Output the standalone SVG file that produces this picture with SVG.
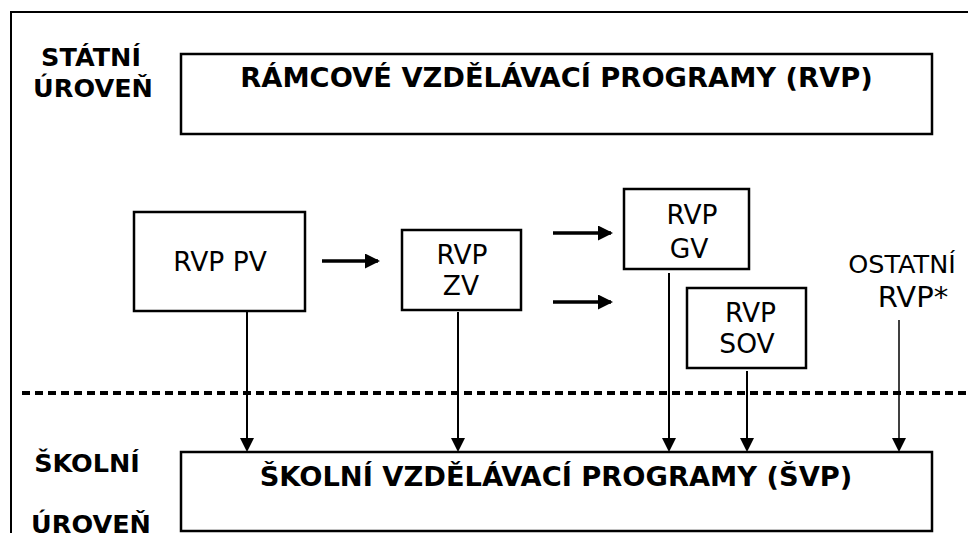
<svg xmlns="http://www.w3.org/2000/svg" width="968" height="533" viewBox="0 0 968 533">
  <style>
    .box { fill: #ffffff; stroke: #000000; stroke-width: 2.5; }
    .lbl { font-family: "DejaVu Sans", "Noto Sans", sans-serif; fill: #000000; text-anchor: middle; }
    .bold { font-weight: bold; font-size: 27.3px; }
    .side { font-weight: bold; font-size: 25.5px; }
    .reg { font-size: 26.5px; }
    .flow { stroke: #000000; stroke-width: 3.5; fill: none; }
    .feed { stroke: #000000; stroke-width: 2; fill: none; }
    .thin { stroke: #000000; stroke-width: 1.5; fill: none; }
  </style>
  <defs>
    <marker id="head" markerUnits="userSpaceOnUse" viewBox="0 0 15 15" markerWidth="15" markerHeight="15" refX="13" refY="7.5" orient="auto">
      <path d="M0,0 L15,7.5 L0,15 z" fill="#000000"/>
    </marker>
    <marker id="headDown" markerUnits="userSpaceOnUse" viewBox="0 0 14 14" markerWidth="14" markerHeight="14" refX="12" refY="7" orient="auto">
      <path d="M0,0 L14,7 L0,14 z" fill="#000000"/>
    </marker>
  </defs>

  <rect width="968" height="533" fill="#ffffff"/>

  <!-- outer frame (left and top edges) -->
  <path d="M11,533 L11,12 L968,12" fill="none" stroke="#000000" stroke-width="2"/>

  <!-- boundary between state level and school level -->
  <line x1="22" y1="393" x2="968" y2="393" stroke="#000000" stroke-width="4" stroke-dasharray="8 5"/>

  <!-- level captions -->
  <g id="level-state">
    <text class="lbl side" x="91" y="66">STÁTNÍ</text>
    <text class="lbl side" x="93" y="97">ÚROVEŇ</text>
  </g>
  <g id="level-school">
    <text class="lbl side" x="87" y="472">ŠKOLNÍ</text>
    <text class="lbl side" x="91" y="533" font-size="26.5">ÚROVEŇ</text>
  </g>

  <!-- connectors -->
  <g id="connectors">
    <line class="flow" x1="322" y1="261" x2="378" y2="261" marker-end="url(#head)"/>
    <line class="flow" x1="553" y1="233" x2="611" y2="233" marker-end="url(#head)"/>
    <line class="flow" x1="553" y1="302" x2="611" y2="302" marker-end="url(#head)"/>
    <line class="feed" x1="247" y1="311" x2="247" y2="450" marker-end="url(#headDown)"/>
    <line class="feed" x1="458" y1="312" x2="458" y2="450" marker-end="url(#headDown)"/>
    <line class="feed" x1="669" y1="273" x2="669" y2="450" marker-end="url(#headDown)"/>
    <line class="feed" x1="747" y1="371" x2="747" y2="450" marker-end="url(#headDown)"/>
    <line class="thin" x1="899" y1="320" x2="899" y2="450" marker-end="url(#headDown)"/>
  </g>

  <g id="rvp">
    <rect class="box" x="181" y="54" width="751" height="80"/>
    <text class="lbl bold" x="556.5" y="87">RÁMCOVÉ VZDĚLÁVACÍ PROGRAMY (RVP)</text>
  </g>

  <g id="rvp-pv">
    <rect class="box" x="134" y="212" width="171" height="99"/>
    <text class="lbl reg" x="220" y="271">RVP PV</text>
  </g>

  <g id="rvp-zv">
    <rect class="box" x="402" y="230" width="119" height="80"/>
    <text class="lbl reg" x="462" y="264">RVP</text>
    <text class="lbl reg" x="461" y="295">ZV</text>
  </g>

  <g id="rvp-gv">
    <rect class="box" x="624" y="189" width="125" height="80"/>
    <text class="lbl reg" x="692" y="224">RVP</text>
    <text class="lbl reg" x="689" y="258">GV</text>
  </g>

  <g id="rvp-sov">
    <rect class="box" x="687" y="288" width="119" height="80"/>
    <text class="lbl reg" x="750.5" y="322">RVP</text>
    <text class="lbl reg" x="747" y="353">SOV</text>
  </g>

  <g id="rvp-other">
    <text class="lbl" x="902" y="273" font-size="25.5">OSTATNÍ</text>
    <text class="lbl" x="913" y="307" font-size="29">RVP*</text>
  </g>

  <g id="svp">
    <rect class="box" x="181" y="452" width="751" height="79"/>
    <text class="lbl bold" x="556" y="486">ŠKOLNÍ VZDĚLÁVACÍ PROGRAMY (ŠVP)</text>
  </g>
</svg>
